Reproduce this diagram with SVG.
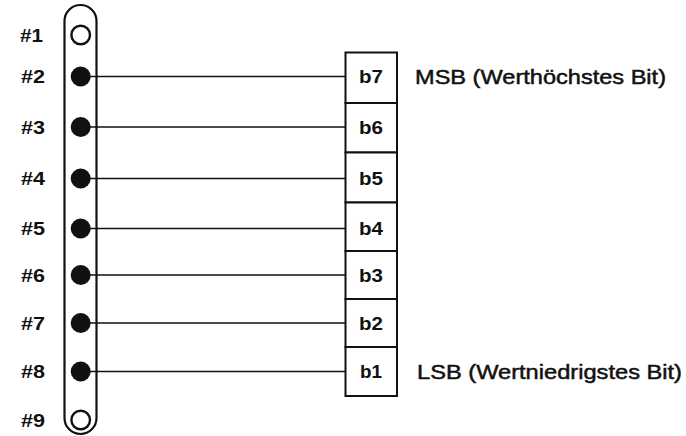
<svg xmlns="http://www.w3.org/2000/svg" width="686" height="436" viewBox="0 0 686 436">
<style>
.pin{font-family:"Liberation Sans",Arial,sans-serif;font-weight:bold;font-size:18px;fill:#111}
.bit{font-family:"Liberation Sans",Arial,sans-serif;font-weight:bold;font-size:18px;fill:#111;text-anchor:middle}
.lbl{font-family:"Liberation Sans",Arial,sans-serif;font-size:21px;fill:#111;stroke:#111;stroke-width:0.5}
.wire{stroke:#111;stroke-width:1.4;fill:none}
.box{fill:#fff;stroke:#111;stroke-width:2}
.hole{fill:#fff;stroke:#111;stroke-width:2.4}
.dot{fill:#111}
</style>
<rect width="686" height="436" fill="#fff"/>
<g id="connector-body">
<rect x="64.5" y="5" width="32" height="429" rx="16" ry="16" fill="none" stroke="#111" stroke-width="2.2"/>
</g>
<g id="connectors">
<line class="wire" x1="90" y1="76.5" x2="345" y2="76.5"/>
<line class="wire" x1="90" y1="127" x2="345" y2="127"/>
<line class="wire" x1="90" y1="178.5" x2="345" y2="178.5"/>
<line class="wire" x1="90" y1="228.5" x2="345" y2="228.5"/>
<line class="wire" x1="90" y1="275" x2="345" y2="275"/>
<line class="wire" x1="90" y1="323" x2="345" y2="323"/>
<line class="wire" x1="90" y1="371.5" x2="345" y2="371.5"/>
</g>
<g id="pin1"><text class="pin" x="20" y="41.5" textLength="23" lengthAdjust="spacingAndGlyphs">#1</text><circle class="hole" cx="80.7" cy="35" r="9.3"/></g>
<g id="pin2"><text class="pin" x="21" y="83" textLength="24" lengthAdjust="spacingAndGlyphs">#2</text><circle class="dot" cx="80.7" cy="76.5" r="10"/></g>
<g id="pin3"><text class="pin" x="21" y="133.5" textLength="24" lengthAdjust="spacingAndGlyphs">#3</text><circle class="dot" cx="80.7" cy="127" r="10"/></g>
<g id="pin4"><text class="pin" x="21" y="185" textLength="24" lengthAdjust="spacingAndGlyphs">#4</text><circle class="dot" cx="80.7" cy="178.5" r="10"/></g>
<g id="pin5"><text class="pin" x="21" y="235" textLength="24" lengthAdjust="spacingAndGlyphs">#5</text><circle class="dot" cx="80.7" cy="228.5" r="10"/></g>
<g id="pin6"><text class="pin" x="21" y="281.5" textLength="24" lengthAdjust="spacingAndGlyphs">#6</text><circle class="dot" cx="80.7" cy="275" r="10"/></g>
<g id="pin7"><text class="pin" x="21" y="329.5" textLength="24" lengthAdjust="spacingAndGlyphs">#7</text><circle class="dot" cx="80.7" cy="323" r="10"/></g>
<g id="pin8"><text class="pin" x="21" y="378" textLength="24" lengthAdjust="spacingAndGlyphs">#8</text><circle class="dot" cx="80.7" cy="371.5" r="10"/></g>
<g id="pin9"><text class="pin" x="21" y="426.5" textLength="24" lengthAdjust="spacingAndGlyphs">#9</text><circle class="hole" cx="80.7" cy="420" r="9.3"/></g>
<g id="b7"><rect class="box" x="345.5" y="52.5" width="51.5" height="50.5"/><text class="bit" x="371" y="83" textLength="24" lengthAdjust="spacingAndGlyphs">b7</text></g>
<g id="b6"><rect class="box" x="345.5" y="103" width="51.5" height="49.5"/><text class="bit" x="371" y="133.5" textLength="24" lengthAdjust="spacingAndGlyphs">b6</text></g>
<g id="b5"><rect class="box" x="345.5" y="152.5" width="51.5" height="50"/><text class="bit" x="371" y="185" textLength="24" lengthAdjust="spacingAndGlyphs">b5</text></g>
<g id="b4"><rect class="box" x="345.5" y="202.5" width="51.5" height="48.5"/><text class="bit" x="371" y="235" textLength="24" lengthAdjust="spacingAndGlyphs">b4</text></g>
<g id="b3"><rect class="box" x="345.5" y="251" width="51.5" height="48"/><text class="bit" x="371" y="281.5" textLength="24" lengthAdjust="spacingAndGlyphs">b3</text></g>
<g id="b2"><rect class="box" x="345.5" y="299" width="51.5" height="48"/><text class="bit" x="371" y="329.5" textLength="24" lengthAdjust="spacingAndGlyphs">b2</text></g>
<g id="b1"><rect class="box" x="345.5" y="347" width="51.5" height="49"/><text class="bit" x="371" y="378" textLength="22" lengthAdjust="spacingAndGlyphs">b1</text></g>
<g id="msb-label"><text class="lbl" x="415" y="84" textLength="251" lengthAdjust="spacingAndGlyphs">MSB (Werthöchstes Bit)</text></g>
<g id="lsb-label"><text class="lbl" x="417" y="379" textLength="265" lengthAdjust="spacingAndGlyphs">LSB (Wertniedrigstes Bit)</text></g>
</svg>
